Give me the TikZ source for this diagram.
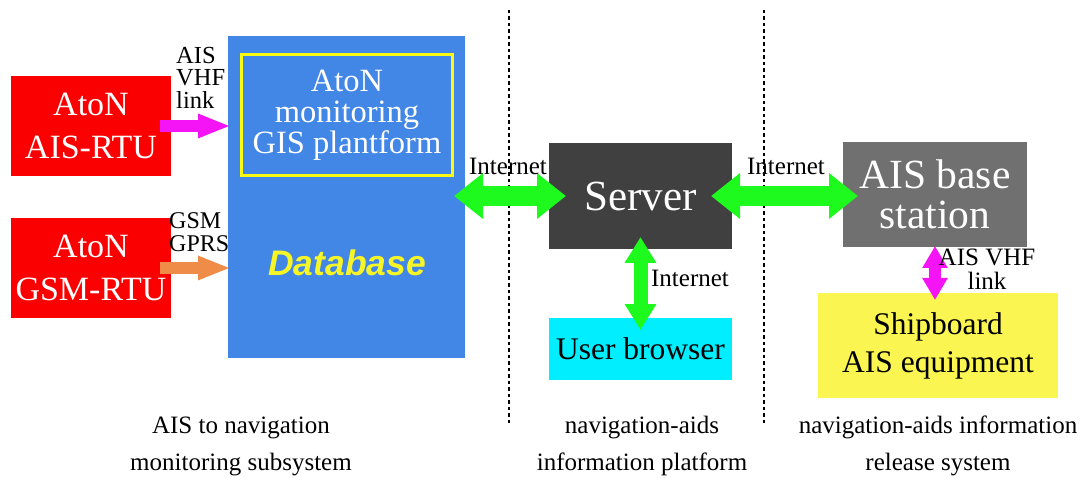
\documentclass[tikz,border=0pt]{standalone}
\usepackage{fontspec}
\setmainfont{Liberation Serif}
\newfontfamily\arialfont{Liberation Sans}
\usetikzlibrary{arrows.meta}
\definecolor{rtured}{RGB}{250,0,0}
\definecolor{dbblue}{RGB}{66,134,230}
\definecolor{gisyellow}{RGB}{250,250,20}
\definecolor{dbtext}{RGB}{245,245,40}
\definecolor{srvgray}{RGB}{64,64,64}
\definecolor{basegray}{RGB}{112,112,112}
\definecolor{usercyan}{RGB}{0,238,255}
\definecolor{shipyellow}{RGB}{250,245,80}
\definecolor{arrgreen}{RGB}{30,250,30}
\definecolor{arrmag}{RGB}{245,20,245}
\definecolor{arrorange}{RGB}{238,140,72}
\tikzset{
  box/.style={inner sep=0pt, outer sep=0pt, align=center},
  lbl/.style={inner sep=0pt, align=left, font=\fontsize{25}{25}\selectfont},
  caption/.style={inner sep=0pt, align=center, font=\fontsize{25}{37}\selectfont},
  bigarrow/.style={draw=arrgreen, line width=20pt, {Triangle[width=44pt,length=29pt]}-{Triangle[width=44pt,length=29pt]}},
  vgarrow/.style={draw=arrgreen, line width=14pt, {Triangle[width=30pt,length=26pt]}-{Triangle[width=30pt,length=26pt]}},
  magarrow/.style={draw=arrmag, line width=12pt, {Triangle[width=24pt,length=22pt]}-{Triangle[width=24pt,length=22pt]}},
  inarrow/.style={line width=12pt, -{Triangle[width=22pt,length=33pt]}},
  sep/.style={draw=black, line width=2pt, dash pattern=on 3.5pt off 3pt}
}
\begin{document}
\begin{tikzpicture}[x=1pt,y=-1pt]
\useasboundingbox (0,0) rectangle (1081,478);
% separators
\coordinate (s1t) at (509,10); \coordinate (s1b) at (509,423);
\coordinate (s2t) at (764,10); \coordinate (s2b) at (764,423);
\draw[sep] (s1t) -- (s1b);
\draw[sep] (s2t) -- (s2b);
% boxes
\node[box, fill=rtured, minimum width=160pt, minimum height=100pt, text=white, font=\fontsize{34}{43}\selectfont] (r1) at (91,126) {AtoN\\AIS-RTU};
\node[box, fill=rtured, minimum width=160pt, minimum height=100pt, text=white, font=\fontsize{34}{43}\selectfont] (r2) at (91,268) {AtoN\\GSM-RTU};
\node[box, fill=dbblue, minimum width=237pt, minimum height=322pt] (db) at (346.5,197) {};
\node[box, draw=gisyellow, line width=3.5pt, minimum width=211pt, minimum height=121pt, text=white, font=\fontsize{32.5}{31}\selectfont] (gis) at (347,115) {AtoN\\monitoring\\GIS plantform};
\node[box, text=dbtext, font=\arialfont\bfseries\itshape\fontsize{35.5}{35.5}\selectfont] (dbl) at (347,263) {Database};
\node[box, fill=srvgray, minimum width=183pt, minimum height=106pt, text=white, font=\fontsize{43}{43}\selectfont] (server) at (640.5,196) {Server};
\node[box, fill=usercyan, minimum width=183pt, minimum height=62pt, text=black, font=\fontsize{31.5}{31.5}\selectfont] (user) at (640.5,349) {User browser};
\node[box, fill=basegray, minimum width=184pt, minimum height=105pt, text=white, font=\fontsize{41.5}{40.5}\selectfont] (base) at (935,194.5) {AIS base\\station};
\node[box, fill=shipyellow, minimum width=240pt, minimum height=105pt, text=black, font=\fontsize{31.5}{38}\selectfont] (ship) at (938,345.5) {Shipboard\\AIS equipment};
% connectors
\draw[inarrow, draw=arrmag, shorten <=-11pt, shorten >=-3pt] (r1.east) -- (r1.east -| db.west);
\draw[inarrow, draw=arrorange, shorten <=-11pt, shorten >=-3pt] (r2.east) -- (r2.east -| db.west);
\draw[bigarrow, shorten <=-11pt, shorten >=-17pt] (db.east |- server.west) -- (server.west);
\draw[bigarrow, shorten <=-21pt, shorten >=-15pt] (server.east) -- (server.east -| base.west);
\draw[vgarrow, shorten <=-12pt, shorten >=-12pt] (server.south) -- (user.north);
\draw[magarrow, shorten <=-1pt, shorten >=-7pt] (base.south) -- (base.south |- ship.north);
% link labels
\node[lbl, anchor=north west, font=\fontsize{24.5}{22.5}\selectfont] (l1) at (176,47) {AIS\\VHF\\link};
\node[lbl, anchor=north west, font=\fontsize{24}{23}\selectfont] (l2) at (169,212) {GSM\\GPRS};
\node[lbl] (i1) at (508,166) {Internet};
\node[lbl] (i2) at (786,166) {Internet};
\node[lbl] (i3) at (690,278) {Internet};
\node[lbl, align=center, font=\fontsize{25}{24}\selectfont] (l3) at (987,269) {AIS VHF\\link};
% captions
\node[caption] (c1) at (241,446) {AIS to navigation\\monitoring subsystem};
\node[caption] (c2) at (642,446) {navigation-aids\\information platform};
\node[caption] (c3) at (938,446) {navigation-aids information\\release system};
\end{tikzpicture}
\end{document}
